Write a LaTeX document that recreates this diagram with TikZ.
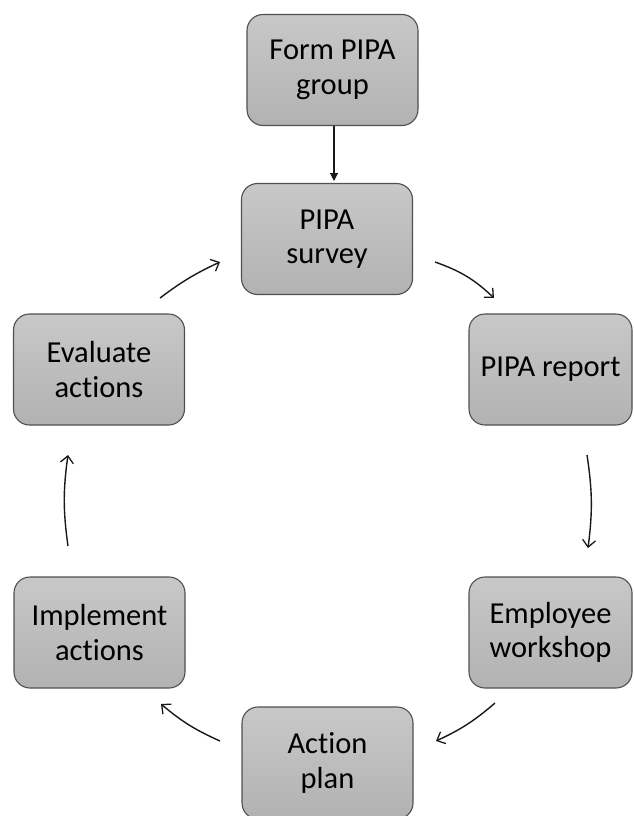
\documentclass[tikz,border=0pt]{standalone}
\usepackage{fontspec}
\setmainfont[Ligatures=NoCommon]{Carlito}
\usetikzlibrary{arrows.meta}
\definecolor{boxtop}{RGB}{200,200,200}
\definecolor{boxbot}{RGB}{178,178,178}
\definecolor{boxline}{RGB}{80,80,80}
\tikzset{
  stagebox/.style={draw=boxline, line width=1.1pt, rounded corners=16pt,
    top color=boxtop, bottom color=boxbot, minimum width=171pt, minimum height=111pt,
    align=center, inner sep=0pt,
    font=\fontsize{30.5}{34.5}\selectfont, text=black},
  cyc/.style={line width=1.4pt, black!90, -{Straight Barb[length=7pt,width=13pt,line width=1.3pt]}},
  feed/.style={line width=1.1pt, black!90, -{Triangle[length=8pt,width=8pt]}}
}
\begin{document}
\begin{tikzpicture}[x=1pt,y=-1pt]
\clip (0,0) rectangle (633,816);
\fill[white] (0,0) rectangle (633,816);
\node[stagebox] (form) at (332.5,70) {Form PIPA\\group};
\node[stagebox] (survey) at (327,239) {PIPA\\survey};
\node[stagebox, minimum width=163pt] (report) at (550.5,369.5) {PIPA report};
\node[stagebox, minimum width=163pt] (workshop) at (550.5,632.5) {Employee\\workshop};
\node[stagebox, minimum height=112pt] (action) at (327.5,763) {Action\\plan};
\node[stagebox] (implement) at (99.5,632.5) {Implement\\actions};
\node[stagebox] (evaluate) at (99,369.5) {Evaluate\\actions};
% connector end points
\coordinate (sr1) at (435,262); \coordinate (sr2) at (494,298);
\coordinate (rw1) at (587,455); \coordinate (rw2) at (588,548);
\coordinate (wa1) at (495,703); \coordinate (wa2) at (436,741);
\coordinate (ai1) at (220,741); \coordinate (ai2) at (161,704);
\coordinate (ie1) at (68,546); \coordinate (ie2) at (68,455);
\coordinate (es1) at (160,298); \coordinate (es2) at (220,262);
\draw[feed] (form.south -| 334,0) -- (334,181);
\draw[cyc] (sr1) to[bend left=12] (sr2);
\draw[cyc] (rw1) to[bend left=8] (rw2);
\draw[cyc] (wa1) to[bend left=8] (wa2);
\draw[cyc] (ai1) to[bend left=8] (ai2);
\draw[cyc] (ie1) to[bend left=8] (ie2);
\draw[cyc] (es1) to[bend left=6] (es2);
\end{tikzpicture}
\end{document}
